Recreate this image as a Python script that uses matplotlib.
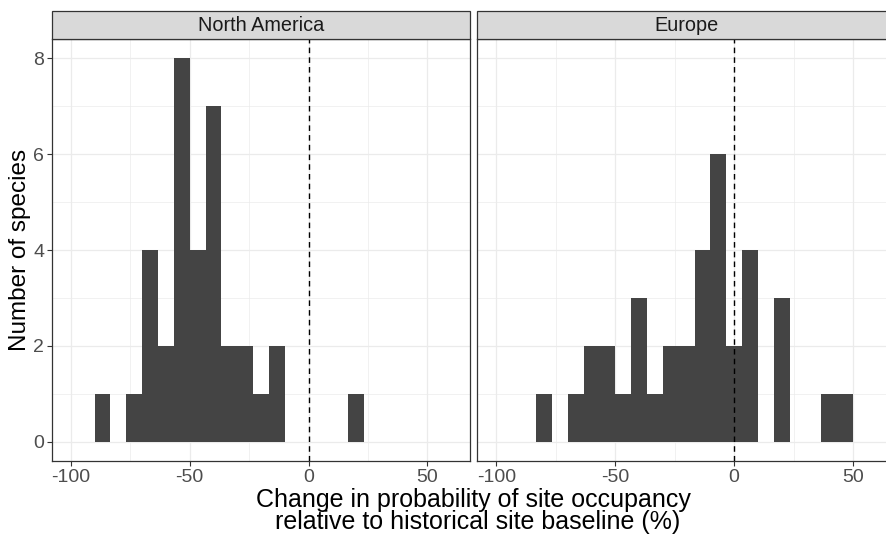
import numpy as np
import matplotlib
matplotlib.use("Agg")
import matplotlib.pyplot as plt
from matplotlib.patches import Rectangle
from matplotlib.ticker import MultipleLocator

plt.rcParams['font.family'] = ['Liberation Sans', 'DejaVu Sans']
plt.rcParams['axes.unicode_minus'] = False

# Data (histogram counts, bins of width 20/3 starting at -90)
bin_start = -90.0
bin_width = 20.0 / 3.0
panels = ["North America", "Europe"]
counts_north_america = [1, 0, 1, 4, 2, 8, 4, 7, 2, 2, 1, 2, 0, 0, 0, 0, 1, 0, 0, 0, 0]
counts_europe = [0, 1, 0, 1, 2, 2, 1, 3, 1, 2, 2, 4, 6, 2, 4, 0, 3, 0, 0, 1, 1]
x_ticks = [-100, -50, 0, 50]
y_ticks = [0, 2, 4, 6, 8]
xlabel_line1 = "Change in probability of site occupancy"
xlabel_line2 = " relative to historical site baseline (%)"
ylabel = "Number of species"

W, H = 886, 536
fig = plt.figure(figsize=(W / 100, H / 100), dpi=100)

def fx(px):
    return px / W

def fy(py):
    return 1 - py / H

panel_top, panel_bot = 39.3, 461.0
panel_w = 418.6
lefts = [51.7, 477.3]
strip_top = 11.0

bar_col = "#444444"
grid_col = "#EBEBEB"
dark = "#333333"
tick_fs = 14.0
strip_fs = 14.3
xtitle_fs = 18.0
ytitle_fs = 17.5

for name, counts, left in zip(panels, [counts_north_america, counts_europe], lefts):
    ax = fig.add_axes([fx(left), fy(panel_bot), fx(panel_w), (panel_bot - panel_top) / H])
    edges = bin_start + bin_width * np.arange(len(counts))
    ax.bar(edges, counts, width=bin_width, align='edge', color=bar_col,
           edgecolor='none', linewidth=0, zorder=2)
    ax.axvline(0, color='black', linestyle=(0, (4, 3)), linewidth=1.0, zorder=3)
    ax.set_xlim(-108, 68)
    ax.set_ylim(-0.4, 8.4)
    ax.set_xticks(x_ticks)
    ax.set_yticks(y_ticks)
    ax.xaxis.set_minor_locator(MultipleLocator(25))
    ax.yaxis.set_minor_locator(MultipleLocator(1))
    ax.grid(which='major', color=grid_col, linewidth=0.9, zorder=0)
    ax.grid(which='minor', color=grid_col, linewidth=0.5, zorder=0)
    ax.set_axisbelow(True)
    ax.tick_params(which='minor', length=0)
    ax.tick_params(which='major', length=3.5, width=0.8, color=dark,
                   labelsize=tick_fs, labelcolor='#4D4D4D', pad=2.0)
    for s in ax.spines.values():
        s.set_color(dark)
        s.set_linewidth(0.9)
    if left != lefts[0]:
        ax.tick_params(axis='y', labelleft=False, length=0)
    # strip
    strip_h = (panel_top - strip_top) / (panel_bot - panel_top)
    rect = Rectangle((0, 1), 1, strip_h, transform=ax.transAxes, facecolor='#D9D9D9',
                     edgecolor=dark, linewidth=0.9, clip_on=False, zorder=5)
    ax.add_patch(rect)
    ax.text(0.5, 1 + strip_h / 2, name, transform=ax.transAxes, ha='center', va='center',
            fontsize=strip_fs, color='#1A1A1A', zorder=6)

cx = fx((51.7 + 477.3 + panel_w) / 2)
fig.text(cx, fy(507.0), xlabel_line1, ha='center', va='baseline', fontsize=xtitle_fs, color='black')
fig.text(cx, fy(529.5), xlabel_line2, ha='center', va='baseline', fontsize=xtitle_fs, color='black')
fig.text(fx(20), fy((panel_top + panel_bot) / 2), ylabel, rotation=90, ha='center',
         va='center', fontsize=ytitle_fs, color='black')

fig.savefig("out.png", dpi=100)
